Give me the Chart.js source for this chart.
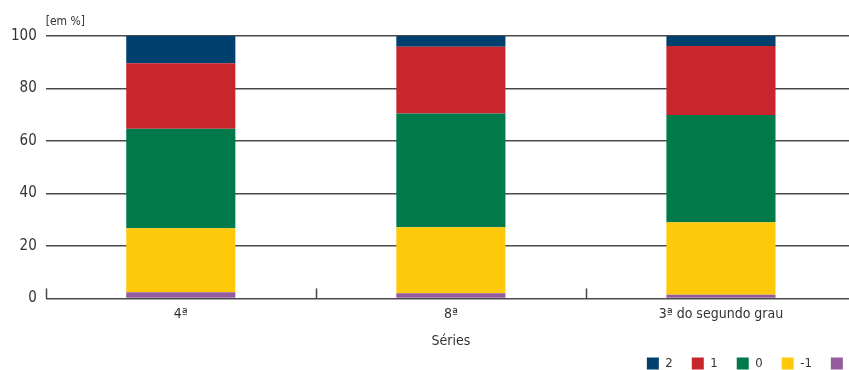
<!DOCTYPE html>
<html>
<head>
<meta charset="utf-8">
<script src="https://cdn.jsdelivr.net/npm/chart.js@4"></script>
<style>
    html, body { margin: 0; padding: 0; background: #fff; overflow: hidden; }
    #wrap { width: 880px; height: 370px; }
</style>
</head>
<body>
<div id="wrap"><canvas id="chart"></canvas></div>
<script>
// Dados do gráfico (em %)
const series = ['4ª', '8ª', '3ª do segundo grau'];
const levelLabels = ['-2', '-1', '0', '1', '2'];
const levelMinus2 = [2.3, 2.0, 1.4];
const levelMinus1 = [24.4, 25.1, 27.6];
const level0 = [38.0, 43.4, 40.9];
const level1 = [24.9, 25.4, 26.3];
const level2 = [10.4, 4.1, 3.8];
const yTicks = [0, 20, 40, 60, 80, 100];

const colors = ['#935c9e', '#fec90b', '#007a4a', '#c9252c', '#00406e'];
const fontFamily = '"DejaVu Sans Condensed", "DejaVu Sans", sans-serif';
const textColor = '#333';

// Unidade no topo do eixo y
const unitLabel = {
    id: 'unitLabel',
    afterDraw(chart) {
        const ctx = chart.ctx;
        ctx.save();
        ctx.font = '12px ' + fontFamily;
        ctx.fillStyle = textColor;
        ctx.textAlign = 'left';
        ctx.textBaseline = 'alphabetic';
        ctx.fillText('[em %]', chart.chartArea.left, chart.chartArea.top - 11);
        ctx.restore();
    }
};

// Marcas curtas entre as categorias (para cima)
const categoryMarks = {
    id: 'categoryMarks',
    afterDatasetsDraw(chart) {
        const x = chart.scales.x;
        const y = chart.scales.y;
        const ctx = chart.ctx;
        const n = series.length;
        ctx.save();
        ctx.strokeStyle = '#444';
        ctx.lineWidth = 1.5;
        for (let i = 0; i <= n; i++) {
            const px = Math.round(x.left + i * (x.width / n)) + 0.5;
            ctx.beginPath();
            ctx.moveTo(px, y.bottom);
            ctx.lineTo(px, y.bottom - 10);
            ctx.stroke();
        }
        ctx.restore();
    }
};

const levelData = [levelMinus2, levelMinus1, level0, level1, level2];

new Chart(document.getElementById('chart'), {
    type: 'bar',
    data: {
        labels: series,
        datasets: levelLabels.map((lab, i) => ({
            label: lab,
            data: levelData[i],
            backgroundColor: colors[i],
            borderWidth: 0,
            barPercentage: 1,
            categoryPercentage: 0.404
        }))
    },
    options: {
        responsive: true,
        maintainAspectRatio: false,
        animation: false,
        layout: { padding: { top: 36, right: 0, left: 2, bottom: -10 } },
        plugins: {
            legend: {
                position: 'bottom',
                align: 'end',
                reverse: true,
                labels: {
                    boxWidth: 12,
                    boxHeight: 12,
                    padding: 19,
                    color: textColor,
                    font: { family: fontFamily, size: 13 }
                }
            },
            tooltip: { enabled: false }
        },
        scales: {
            x: {
                stacked: true,
                grid: { display: false },
                border: { display: false },
                ticks: {
                    color: textColor,
                    font: { family: fontFamily, size: 14 },
                    padding: 0
                },
                title: {
                    display: true,
                    text: 'Séries',
                    color: textColor,
                    font: { family: fontFamily, size: 14 },
                    padding: { top: 10, bottom: -12 }
                }
            },
            y: {
                stacked: true,
                min: 0,
                max: 100,
                afterBuildTicks(scale) {
                    scale.ticks = yTicks.map(v => ({ value: v }));
                },
                grid: {
                    color: '#4a4a4a',
                    lineWidth: 1.5,
                    drawTicks: false
                },
                border: { display: false },
                ticks: {
                    color: textColor,
                    font: { family: fontFamily, size: 15 },
                    padding: 9
                }
            },
            // espaço vazio à direita da área do gráfico
            pad: {
                type: 'linear',
                position: 'right',
                display: true,
                grid: { display: false },
                border: { display: false },
                ticks: { display: false },
                afterFit(scale) {
                    scale.width = 24;
                }
            }
        }
    },
    plugins: [unitLabel, categoryMarks]
});
</script>
</body>
</html>
